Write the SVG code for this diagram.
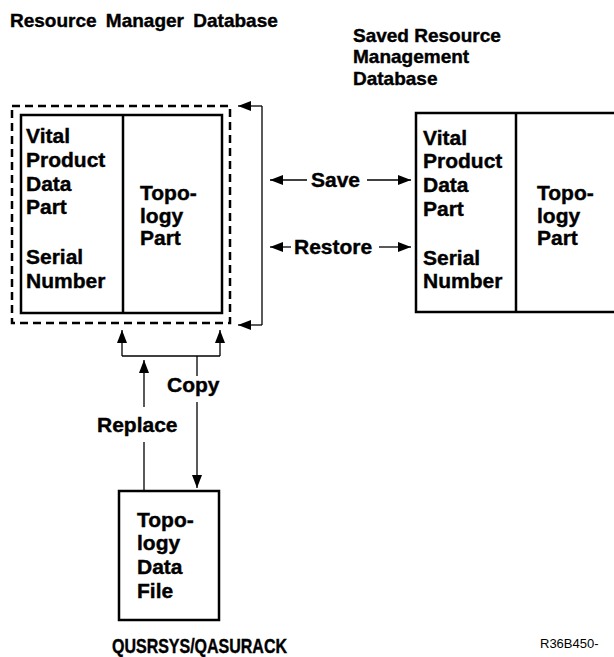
<svg xmlns="http://www.w3.org/2000/svg" width="614" height="657" viewBox="0 0 614 657">
  <style>
    text { font-family: "Liberation Sans", Arial, sans-serif; font-weight: bold; fill: #000; stroke: #000; stroke-width: 0.4; }
    .lbl { font-size: 21px; }
    .title { font-size: 19px; }
    .code { font-size: 13px; font-weight: normal; stroke: none; }
    .box { fill: none; stroke: #000; stroke-width: 2.5; }
    .dash { fill: none; stroke: #000; stroke-width: 2.5; stroke-dasharray: 8 5; }
    .conn { fill: none; stroke: #000; stroke-width: 1.3; }
  </style>
  <defs>
    <marker id="arrow" viewBox="0 0 13 10" refX="13" refY="5" markerWidth="13" markerHeight="10" markerUnits="userSpaceOnUse" orient="auto">
      <path d="M0,0 L13,5 L0,10 Z" fill="#000"/>
    </marker>
  </defs>

  <rect width="614" height="657" fill="#fff"/>

  <!-- headings -->
  <text class="title" x="10" y="27" word-spacing="4">Resource Manager Database</text>
  <g id="saved-heading">
    <text class="title" x="353" y="42">Saved Resource</text>
    <text class="title" x="353" y="63">Management</text>
    <text class="title" x="353" y="85">Database</text>
  </g>

  <!-- live database -->
  <g id="rm-database">
    <rect class="dash" x="12" y="106" width="218" height="217"/>
    <rect class="box" x="21" y="115" width="201" height="198"/>
    <line class="box" x1="123" y1="115" x2="123" y2="313"/>
    <text class="lbl" x="26" y="143">Vital</text>
    <text class="lbl" x="26" y="167">Product</text>
    <text class="lbl" x="26" y="191">Data</text>
    <text class="lbl" x="26" y="214">Part</text>
    <text class="lbl" x="26" y="264">Serial</text>
    <text class="lbl" x="26" y="288">Number</text>
    <text class="lbl" x="140" y="200">Topo-</text>
    <text class="lbl" x="140" y="223">logy</text>
    <text class="lbl" x="140" y="245">Part</text>
  </g>

  <!-- saved database -->
  <g id="saved-database">
    <rect class="box" x="416" y="113" width="210" height="199"/>
    <line class="box" x1="516" y1="113" x2="516" y2="312"/>
    <text class="lbl" x="423" y="145">Vital</text>
    <text class="lbl" x="423" y="168">Product</text>
    <text class="lbl" x="423" y="192">Data</text>
    <text class="lbl" x="423" y="216">Part</text>
    <text class="lbl" x="423" y="265">Serial</text>
    <text class="lbl" x="423" y="288">Number</text>
    <text class="lbl" x="537" y="200">Topo-</text>
    <text class="lbl" x="537" y="223">logy</text>
    <text class="lbl" x="537" y="245">Part</text>
  </g>

  <!-- topology data file -->
  <g id="topology-file">
    <rect class="box" x="119" y="491" width="100" height="129"/>
    <text class="lbl" x="137" y="527">Topo-</text>
    <text class="lbl" x="137" y="550">logy</text>
    <text class="lbl" x="137" y="574">Data</text>
    <text class="lbl" x="137" y="598">File</text>
    <text x="112" y="653" font-size="20" textLength="175" lengthAdjust="spacingAndGlyphs">QUSRSYS/QASURACK</text>
  </g>

  <!-- connectors -->
  <g id="connectors">
    <!-- bracket into the live database -->
    <polyline class="conn" points="262,106 262,325"/>
    <line class="conn" x1="262" y1="106" x2="238" y2="106" marker-end="url(#arrow)"/>
    <line class="conn" x1="262" y1="325" x2="238" y2="325" marker-end="url(#arrow)"/>

    <!-- save -->
    <line class="conn" x1="307" y1="180" x2="270" y2="180" marker-end="url(#arrow)"/>
    <line class="conn" x1="367" y1="180" x2="411" y2="180" marker-end="url(#arrow)"/>
    <text class="lbl" x="311" y="187">Save</text>

    <!-- restore -->
    <line class="conn" x1="291" y1="247" x2="270" y2="247" marker-end="url(#arrow)"/>
    <line class="conn" x1="379" y1="247" x2="411" y2="247" marker-end="url(#arrow)"/>
    <text class="lbl" x="294" y="254">Restore</text>

    <!-- copy -->
    <line class="conn" x1="122" y1="356" x2="220" y2="356"/>
    <line class="conn" x1="122" y1="356" x2="122" y2="330" marker-end="url(#arrow)"/>
    <line class="conn" x1="220" y1="356" x2="220" y2="330" marker-end="url(#arrow)"/>
    <line class="conn" x1="197" y1="356" x2="197" y2="376"/>
    <line class="conn" x1="197" y1="402" x2="197" y2="488" marker-end="url(#arrow)"/>
    <text class="lbl" x="167" y="392">Copy</text>

    <!-- replace -->
    <line class="conn" x1="144" y1="490" x2="144" y2="442"/>
    <line class="conn" x1="144" y1="407" x2="144" y2="360" marker-end="url(#arrow)"/>
    <text class="lbl" x="97" y="432">Replace</text>
  </g>

  <text class="code" x="540" y="648">R36B450-</text>
</svg>
